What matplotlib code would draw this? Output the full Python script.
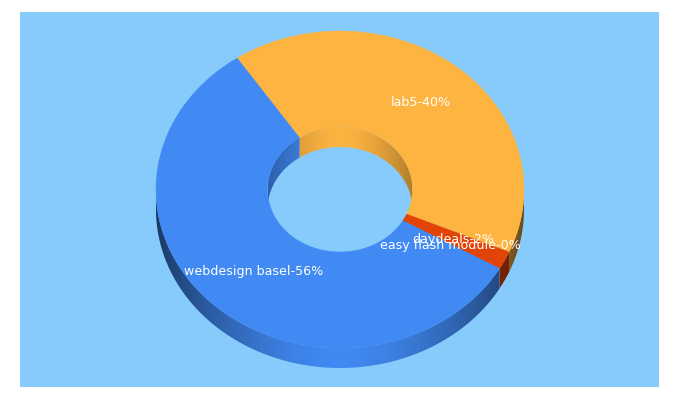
"""Donut share chart with a fake 3D rim, drawn in pixel coordinates."""
import numpy as np
import matplotlib
matplotlib.use("Agg")
import matplotlib.pyplot as plt
from matplotlib.patches import Polygon, Rectangle

# slices clockwise from the blue/orange edge; shares
names = ["lab5", "daydeals", "easy flash module", "webdesign basel"]
shares = [40.9, 1.8, 0.05, 57.25]
shown_pct = [40, 2, 0, 56]
colors = ["#fdb441", "#e24307", "#e24307", "#418af3"]

W, H = 680, 400
PANEL = "#87cbfc"
START = 326.0  # degrees clockwise from 12 o'clock
CX, CY = 340, 189.5
RX, RY = 184, 158.5
HOLE = 0.394
DEPTH = 20


def arc(a0, a1, frac=1.0, drop=0):
    t = np.radians(np.linspace(a0, a1, max(int(abs(a1 - a0) * 2), 2)))
    return np.column_stack([CX + RX * frac * np.sin(t),
                            CY - RY * frac * np.cos(t) + drop])


def shaded_wall(ax, pts, color, rx, floor):
    """Fill pts with a horizontal gradient: full colour mid-chart, dark at the sides."""
    rgb = np.array(matplotlib.colors.to_rgb(color))
    xs = np.linspace(CX - rx, CX + rx, 400)
    k = 1 - (1 - floor) * np.abs((xs - CX) / rx) ** 1.6
    img = (k[None, :, None] * rgb).clip(0, 1)
    patch = Polygon(pts, closed=True, transform=ax.transData, fc="none", ec="none")
    ax.add_patch(patch)
    im = ax.imshow(img, extent=(CX - rx, CX + rx, H, 0), aspect="auto",
                   interpolation="bilinear", zorder=2)
    im.set_clip_path(patch)


def overlap(a0, a1, lo, hi):
    """Part of the clockwise span a0..a1 inside lo..hi, also trying a turn later."""
    out = []
    for off in (0, 360):
        s, e = max(a0, lo + off), min(a1, hi + off)
        if e > s:
            out.append((s, e))
    return out


fig = plt.figure(figsize=(W / 100, H / 100), dpi=100, facecolor="white")
ax = fig.add_axes([0, 0, 1, 1])
ax.add_patch(Rectangle((20, 12), 639, 375, fc=PANEL, ec="none", zorder=0))

edges = START + np.cumsum([0] + shares) * 3.6
for i, color in enumerate(colors):
    a0, a1 = edges[i], edges[i + 1]
    # outer rim shows on the lower half, inner rim on the upper half
    for s, e in overlap(a0, a1, 90, 270):
        top = arc(s, e)
        shaded_wall(ax, np.vstack([top, top[::-1] + [0, DEPTH]]), color, RX, 0.42)
    for s, e in overlap(a0, a1, 270, 450):
        top = arc(s, e, HOLE)
        shaded_wall(ax, np.vstack([top, top[::-1] + [0, DEPTH]]), color, RX * HOLE, 0.70)

for i, color in enumerate(colors):
    a0, a1 = edges[i], edges[i + 1]
    ring = np.vstack([arc(a0, a1), arc(a1, a0, HOLE)])
    ax.add_patch(Polygon(ring, closed=True, fc=color, ec=color, lw=0.3, zorder=3))

for i, name in enumerate(names):
    mid = np.radians((edges[i] + edges[i + 1]) / 2)
    ax.text(CX + 0.69 * RX * np.sin(mid), CY - 0.71 * RY * np.cos(mid),
            f"{name}-{shown_pct[i]}%", color="white", fontsize=9.1,
            family="DejaVu Sans", ha="center", va="center", zorder=5)

ax.set_xlim(0, W)
ax.set_ylim(H, 0)
ax.axis("off")
fig.savefig("out.png", dpi=100, facecolor="white")
plt.close(fig)
